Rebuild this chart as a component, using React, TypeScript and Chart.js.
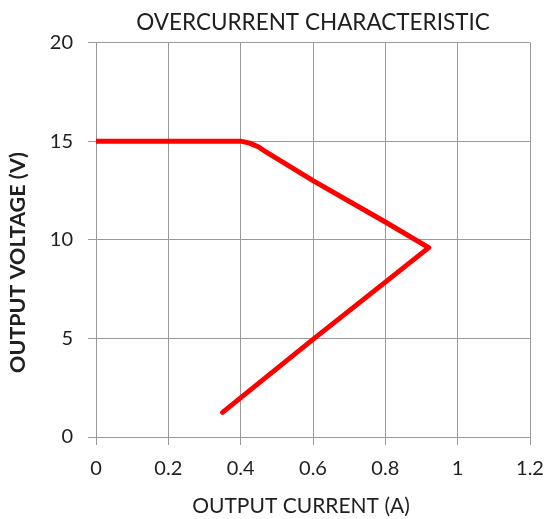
import React, { useEffect, useRef } from "react";
import { Chart, registerables } from "chart.js";

Chart.register(...registerables);

const chartTitle = "OVERCURRENT CHARACTERISTIC";
const xAxisTitle = "OUTPUT CURRENT (A)";
const yAxisTitle = "OUTPUT VOLTAGE (V)";

// Output current (A) and output voltage (V)
const currentA = [0, 0.2, 0.4, 0.425, 0.45, 0.47, 0.6, 0.8, 0.92, 0.8, 0.6, 0.35];
const voltageV = [15, 15, 15, 14.9, 14.7, 14.45, 13.0, 10.9, 9.6, 7.85, 4.95, 1.25];

const xMin = 0;
const xMax = 1.2;
const xStep = 0.2;
const yMin = 0;
const yMax = 20;
const yStep = 5;

const FONT = "Lato, 'Open Sans', sans-serif";
const GRID = "#9a9a9a";
const TEXT = "#1f1f1f";

const titlesPlugin = {
  id: "titles",
  afterDraw(chart: any) {
    const { ctx, chartArea } = chart;
    ctx.save();
    ctx.fillStyle = TEXT;
    ctx.textAlign = "center";
    ctx.textBaseline = "middle";
    // chart title
    ctx.font = `22.5px ${FONT}`;
    ctx.fillText(chartTitle, (chartArea.left + chartArea.right) / 2, chartArea.top - 20);
    // x title
    ctx.font = `21px ${FONT}`;
    ctx.fillText(xAxisTitle, chartArea.left + 205, chartArea.bottom + 69);
    // y title
    ctx.translate(18.5, chartArea.top + 220);
    ctx.rotate(-Math.PI / 2);
    ctx.font = `bold 21.5px ${FONT}`;
    ctx.fillText(yAxisTitle, 0, 0);
    ctx.restore();
  },
};

export default function App() {
  const ref = useRef<HTMLCanvasElement | null>(null);

  useEffect(() => {
    if (!ref.current) return;
    const chart = new Chart(ref.current, {
      type: "line",
      data: {
        datasets: [
          {
            data: currentA.map((x, i) => ({ x, y: voltageV[i] })),
            borderColor: "#ff0000",
            borderWidth: 5,
            pointRadius: 0,
            borderJoinStyle: "round",
            borderCapStyle: "round",
            tension: 0,
            fill: false,
          },
        ],
      },
      options: {
        animation: false,
        responsive: false,
        maintainAspectRatio: false,
        layout: { padding: { left: 0, right: 16, top: 42.5, bottom: 0 } },
        plugins: {
          legend: { display: false },
          tooltip: { enabled: false },
          title: { display: false },
        },
        scales: {
          x: {
            type: "linear",
            min: xMin,
            max: xMax,
            afterFit: (s: any) => {
              s.height = 82;
              s.paddingLeft = 0;
              s.paddingRight = 0;
            },
            ticks: {
              stepSize: xStep,
              color: TEXT,
              font: { family: FONT, size: 20 },
              padding: 12,
              maxRotation: 0,
              callback: (v: any) => String(Math.round(Number(v) * 10) / 10),
            },
            grid: { color: GRID, lineWidth: 1, tickLength: 8, drawTicks: true },
            border: { color: GRID, width: 1 },
          },
          y: {
            type: "linear",
            min: yMin,
            max: yMax,
            afterFit: (s: any) => {
              s.width = 96;
              s.paddingTop = 0;
              s.paddingBottom = 0;
            },
            ticks: {
              stepSize: yStep,
              color: TEXT,
              font: { family: FONT, size: 20 },
              padding: 15,
            },
            grid: { color: GRID, lineWidth: 1, tickLength: 8, drawTicks: true },
            border: { color: GRID, width: 1 },
          },
        },
      },
      plugins: [titlesPlugin],
    } as any);
    return () => chart.destroy();
  }, []);

  return (
    <div style={{ position: "absolute", left: 0, top: 0, width: 546, height: 519, background: "#fff" }}>
      <canvas ref={ref} width={546} height={519} style={{ display: "block" }} />
    </div>
  );
}
